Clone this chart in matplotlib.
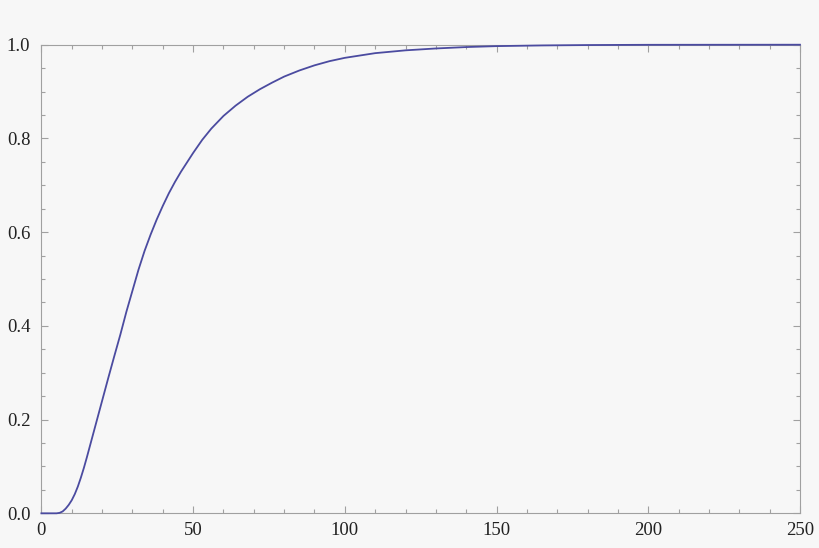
import matplotlib
matplotlib.use("Agg")
import matplotlib.pyplot as plt
from matplotlib.ticker import MultipleLocator

# values
xs = [0, 5, 6, 7, 8, 9, 10, 11, 12, 13, 14, 15, 16, 17, 18, 19, 20, 22, 24,
      26, 28, 30, 32, 34, 36, 38, 40, 42, 44, 46, 48, 50, 53, 56, 60, 64, 68,
      72, 76, 80, 85, 90, 95, 100, 110, 120, 130, 140, 150, 165, 180, 200, 250]
ys = [0.0, 0.0, 0.001, 0.004, 0.010, 0.018, 0.028, 0.041, 0.057, 0.076,
      0.097, 0.120, 0.144, 0.168, 0.192, 0.216, 0.240, 0.288, 0.335, 0.381,
      0.430, 0.475, 0.520, 0.560, 0.595, 0.627, 0.656, 0.683, 0.707, 0.729,
      0.749, 0.769, 0.797, 0.821, 0.848, 0.870, 0.889, 0.905, 0.919, 0.932,
      0.945, 0.956, 0.965, 0.972, 0.982, 0.988, 0.992, 0.995, 0.997, 0.9985,
      0.9993, 0.9998, 1.0]

bg = "#f7f7f7"
plt.rcParams["font.family"] = ["Liberation Serif", "DejaVu Serif"]

fig = plt.figure(figsize=(8.2, 5.48), dpi=100, facecolor=bg)
ax = fig.add_axes([0.0505, 0.0633, 0.9251, 0.8551])
ax.set_facecolor(bg)

ax.plot(xs, ys, color="#4b4ba0", linewidth=1.3, clip_on=False, zorder=3,
        solid_joinstyle="round")

ax.set_xlim(0, 250)
ax.set_ylim(0, 1)
ax.xaxis.set_major_locator(MultipleLocator(50))
ax.xaxis.set_minor_locator(MultipleLocator(10))
ax.yaxis.set_major_locator(MultipleLocator(0.2))
ax.yaxis.set_minor_locator(MultipleLocator(0.05))
ax.xaxis.set_major_formatter(lambda v, p: f"{v:.0f}")
ax.yaxis.set_major_formatter(lambda v, p: f"{v:.1f}")

for s in ax.spines.values():
    s.set_color("#a0a0a0")
    s.set_linewidth(0.8)

ax.tick_params(which="both", direction="in", top=True, right=True,
               color="#a0a0a0", width=0.8, labelsize=13.5, labelcolor="#222222")
ax.tick_params(which="major", length=5)
ax.tick_params(axis="y", which="major", pad=8)
ax.tick_params(axis="x", which="major", pad=6)
ax.tick_params(which="minor", length=3)

fig.savefig("out.png", dpi=100, facecolor=bg)
